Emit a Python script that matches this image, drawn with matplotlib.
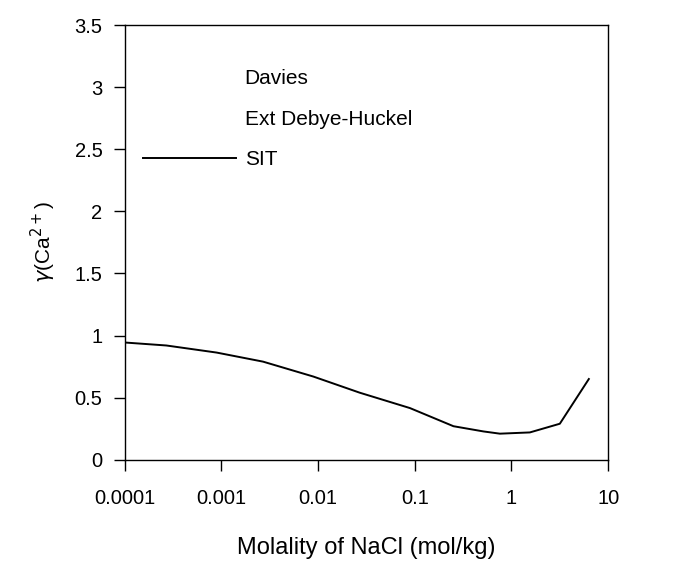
import matplotlib
matplotlib.use("Agg")
import matplotlib.pyplot as plt
import numpy as np

# SIT curve
molality = [1e-4, 10**-3.57, 10**-3.05, 10**-2.57, 10**-2.05, 10**-1.57,
            10**-1.05, 10**-0.6, 10**-0.29, 10**-0.12, 10**0.19, 10**0.5, 10**0.8]
gamma_sit = [0.944, 0.92, 0.863, 0.79, 0.67, 0.54,
             0.416, 0.27, 0.228, 0.21, 0.22, 0.29, 0.65]

x_ticks = [0.0001, 0.001, 0.01, 0.1, 1, 10]
x_labels = ["0.0001", "0.001", "0.01", "0.1", "1", "10"]
y_ticks = [0, 0.5, 1, 1.5, 2, 2.5, 3, 3.5]
y_labels = ["0", "0.5", "1", "1.5", "2", "2.5", "3", "3.5"]

plt.rcParams['font.family'] = ['Liberation Sans', 'DejaVu Sans']

fig = plt.figure(figsize=(6.78, 5.69), dpi=100)
ax = fig.add_axes([0.184, 0.192, 0.713, 0.764])

# Davies and Ext Debye-Huckel show up only as legend text
ax.plot([], [], color='none', label='Davies')
ax.plot([], [], color='none', label='Ext Debye-Huckel')
ax.plot(molality, gamma_sit, color='black', lw=1.4, label='SIT')

ax.set_xscale('log')
ax.set_xlim(1e-4, 10)
ax.set_ylim(0, 3.5)
ax.set_xticks(x_ticks)
ax.set_xticklabels(x_labels)
ax.minorticks_off()
ax.set_yticks(y_ticks)
ax.set_yticklabels(y_labels)
ax.tick_params(direction='out', length=8, width=1, labelsize=14.5, colors='black')
ax.tick_params(axis='y', pad=8)
ax.tick_params(axis='x', pad=13)
for s in ax.spines.values():
    s.set_linewidth(1)

ax.set_xlabel('Molality of NaCl (mol/kg)', fontsize=17, labelpad=21)
ax.set_ylabel(r'$\gamma$(Ca$^{2+}$)', fontsize=15, labelpad=12)

ax.legend(loc='upper left', bbox_to_anchor=(0.037, 0.899), frameon=False,
          borderaxespad=0, borderpad=0,
          fontsize=15, handlelength=4.5, handletextpad=0.4, labelspacing=1.04)

fig.savefig('out.png', dpi=100)
